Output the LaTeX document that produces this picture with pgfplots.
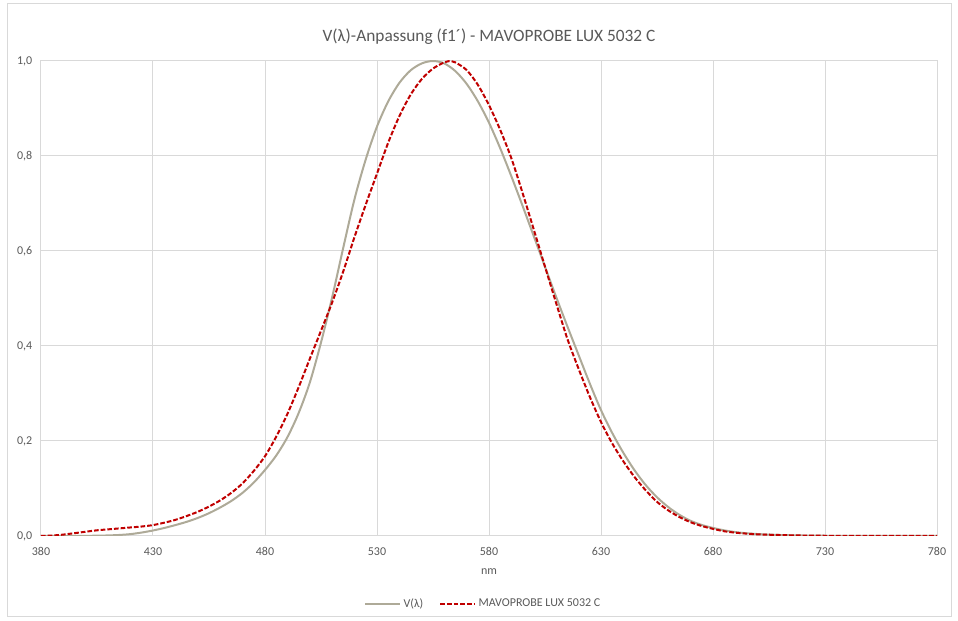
\documentclass[border=0pt]{standalone}
\usepackage{fontspec}
\setmainfont{Carlito}
\usepackage{pgfplots}
\usepackage{pgfplotstable}
\pgfplotsset{compat=1.18}
\definecolor{txt}{HTML}{595959}
\definecolor{gridc}{HTML}{D9D9D9}
\definecolor{vcol}{HTML}{AEAA98}
\definecolor{rcol}{HTML}{C00000}

\pgfplotstableread{
nm v
380 0.000039
385 0.000064
390 0.00012
395 0.000217
400 0.000396
405 0.00064
410 0.00121
415 0.00218
420 0.004
425 0.0073
430 0.0116
435 0.01684
440 0.023
445 0.0298
450 0.038
455 0.048
460 0.06
465 0.0739
470 0.09098
475 0.1126
480 0.13902
485 0.1693
490 0.20802
495 0.2586
500 0.323
505 0.4073
510 0.503
515 0.6082
520 0.71
525 0.7932
530 0.862
535 0.91485
540 0.954
545 0.9803
550 0.99495
555 1.0
560 0.995
565 0.9786
570 0.952
575 0.9154
580 0.87
585 0.8163
590 0.757
595 0.6949
600 0.631
605 0.5668
610 0.503
615 0.4412
620 0.381
625 0.321
630 0.265
635 0.217
640 0.175
645 0.1382
650 0.107
655 0.0816
660 0.061
665 0.04458
670 0.032
675 0.0232
680 0.017
685 0.01192
690 0.00821
695 0.005723
700 0.0041
705 0.002929
710 0.002091
715 0.001484
720 0.001047
725 0.00074
730 0.00052
735 0.000361
740 0.000249
745 0.000172
750 0.00012
755 0.0000848
760 0.00006
765 0.0000424
770 0.00003
775 0.0000212
780 0.000015
}\vtable

\pgfplotstableread{
nm r
380 0.000
385 0.001
390 0.003
395 0.006
400 0.009
405 0.012
410 0.014
415 0.016
420 0.018
425 0.020
430 0.023
435 0.028
440 0.034
445 0.042
450 0.051
455 0.062
460 0.075
465 0.091
470 0.111
475 0.137
480 0.168
485 0.209
490 0.257
495 0.313
500 0.373
505 0.432
510 0.492
515 0.558
520 0.630
525 0.698
530 0.763
535 0.828
540 0.884
545 0.929
550 0.962
555 0.984
560 0.997
563 1.000
565 0.997
570 0.981
575 0.950
580 0.907
585 0.855
590 0.795
595 0.722
600 0.645
605 0.567
610 0.490
615 0.415
620 0.352
625 0.293
630 0.240
635 0.195
640 0.157
645 0.124
650 0.096
655 0.072
660 0.054
665 0.040
670 0.029
675 0.021
680 0.015
685 0.010
690 0.007
695 0.005
700 0.0035
710 0.002
720 0.001
730 0.0005
750 0.0002
780 0.0
}\rtable

\begin{document}
\begin{tikzpicture}
\path[use as bounding box] (0,0) rectangle (718.5pt,465.75pt);
\draw[gridc, line width=0.75pt] (5.25pt,3pt) rectangle (713.25pt,462.75pt);
\begin{axis}[
  at={(30.75pt,63.75pt)}, anchor=south west,
  scale only axis, width=672pt, height=356.25pt,
  xmin=380, xmax=780, ymin=0, ymax=1,
  xtick={380,430,...,780}, ytick={0,0.2,...,1.0},
  grid=major, major grid style={gridc, line width=0.75pt},
  axis line style={gridc, line width=0.75pt},
  tick style={draw=none},
  every tick label/.append style={font=\fontsize{9}{11}\selectfont, text=txt},
  /pgf/number format/assume math mode=true,
  yticklabel style={/pgf/number format/.cd, fixed, fixed zerofill, precision=1, use comma},
  xticklabel style={/pgf/number format/.cd, fixed, precision=0, 1000 sep={}},
  xticklabel shift=5pt, yticklabel shift=3pt,
  xlabel={nm}, xlabel style={font=\fontsize{9}{11}\selectfont, text=txt,
    at={(axis description cs:0.5,-0.074)}, anchor=center},
  title={V(λ)-Anpassung (f1´) - MAVOPROBE LUX 5032 C},
  title style={font=\fontsize{13}{15}\selectfont, text=txt, yshift=3pt},
  legend style={at={(0.494,-0.143)}, anchor=center, draw=none, fill=none,
    font=\fontsize{9}{11}\selectfont, text=txt, legend columns=2,
    /tikz/every even column/.append style={column sep=10pt}},
  legend image code/.code={\draw[#1] (0pt,0pt) -- (26pt,0pt);},
]
\addplot[vcol, line width=1.5pt, smooth] table[x=nm, y=v] {\vtable};
\addlegendentry{V(λ)}
\addplot[rcol, line width=1.5pt, dash pattern=on 3.5pt off 1.5pt, smooth] table[x=nm, y=r] {\rtable};
\addlegendentry{MAVOPROBE LUX 5032 C}
\end{axis}
\end{tikzpicture}
\end{document}
